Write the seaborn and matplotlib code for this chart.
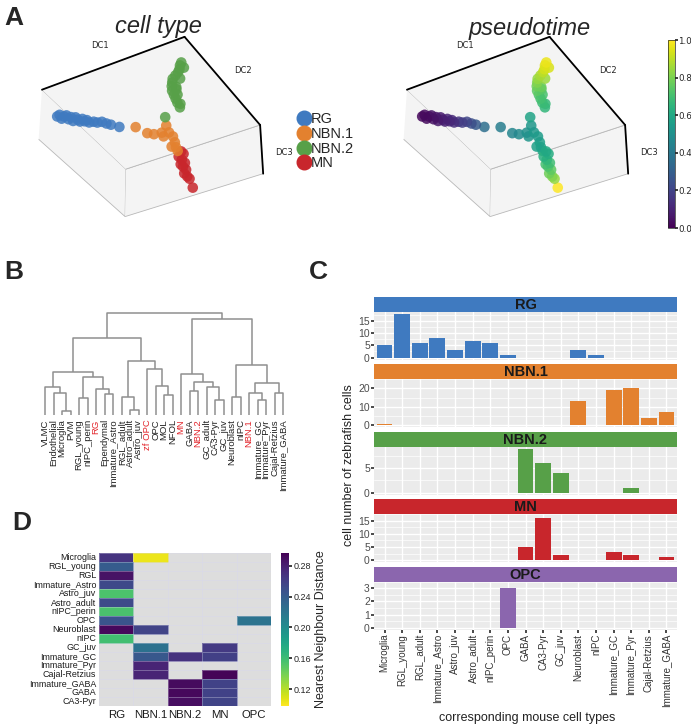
import numpy as np
import pandas as pd
import matplotlib
matplotlib.use("Agg")
import matplotlib.pyplot as plt
import seaborn as sns
from matplotlib.lines import Line2D
from matplotlib.cm import ScalarMappable
from matplotlib.colors import Normalize

sns.set_theme(style="white")
plt.rcParams['font.family'] = ['Liberation Sans', 'DejaVu Sans']

# ---------------- DATA ----------------
# Panel A: diffusion components (DC1, DC2, DC3) and pseudotime per cell
cell_types = ["RG", "NBN.1", "NBN.2", "MN"]
type_colors = ["#3f7ac0", "#e3812f", "#57a048", "#c8262c"]

rg_dc1 = [0.09, 0.10, 0.11, 0.12, 0.13, 0.14, 0.15, 0.16, 0.17, 0.18, 0.19,
          0.20, 0.21, 0.22, 0.23, 0.25, 0.27, 0.29, 0.31, 0.33, 0.36]
rg_dc2 = [0.05, 0.06, 0.07, 0.08, 0.09, 0.10, 0.11, 0.12, 0.13, 0.14, 0.15,
          0.16, 0.17, 0.18, 0.19, 0.21, 0.22, 0.24, 0.26, 0.28, 0.33]
rg_dc3 = [0.45, 0.49, 0.42, 0.47, 0.50, 0.43, 0.48, 0.41, 0.49, 0.45, 0.42,
          0.48, 0.44, 0.47, 0.43, 0.46, 0.44, 0.47, 0.45, 0.44, 0.45]
rg_pt = [0.02, 0.03, 0.03, 0.04, 0.05, 0.05, 0.06, 0.07, 0.08, 0.08, 0.09,
         0.10, 0.11, 0.12, 0.13, 0.15, 0.18, 0.21, 0.24, 0.28, 0.36]

nbn1_dc1 = [0.44, 0.47, 0.50, 0.55, 0.61, 0.59, 0.59, 0.57, 0.55, 0.53, 0.54, 0.54]
nbn1_dc2 = [0.39, 0.48, 0.51, 0.52, 0.47, 0.54, 0.59, 0.65, 0.70, 0.68, 0.56, 0.74]
nbn1_dc3 = [0.47, 0.47, 0.47, 0.47, 0.47, 0.47, 0.47, 0.47, 0.47, 0.47, 0.47, 0.47]
nbn1_pt = [0.42, 0.46, 0.48, 0.50, 0.53, 0.54, 0.55, 0.57, 0.58, 0.57, 0.52, 0.60]

nbn2_dc1 = [0.62, 0.68, 0.69, 0.70, 0.71, 0.72, 0.74, 0.76, 0.78, 0.81, 0.84,
            0.86, 0.88, 0.90, 0.73, 0.76, 0.82, 0.89, 0.75, 0.70]
nbn2_dc2 = [0.44, 0.52, 0.47, 0.43, 0.39, 0.35, 0.31, 0.28, 0.25, 0.23, 0.21,
            0.19, 0.16, 0.14, 0.40, 0.33, 0.27, 0.19, 0.35, 0.49]
nbn2_dc3 = [0.58, 0.86, 0.86, 0.86, 0.86, 0.86, 0.86, 0.86, 0.86, 0.86, 0.86,
            0.86, 0.86, 0.86, 0.86, 0.86, 0.86, 0.86, 0.86, 0.86]
nbn2_pt = [0.58, 0.66, 0.68, 0.70, 0.72, 0.75, 0.78, 0.81, 0.84, 0.87, 0.90,
           0.93, 0.95, 0.97, 0.71, 0.77, 0.85, 0.94, 0.74, 0.67]

mn_dc1 = [0.63, 0.63, 0.59, 0.59, 0.59, 0.56, 0.56, 0.53, 0.53, 0.53, 0.56, 0.52]
mn_dc2 = [0.62, 0.65, 0.66, 0.70, 0.74, 0.77, 0.81, 0.84, 0.88, 0.91, 0.74, 0.97]
mn_dc3 = [0.18, 0.18, 0.18, 0.18, 0.18, 0.18, 0.18, 0.18, 0.18, 0.18, 0.18, 0.10]
mn_pt = [0.60, 0.62, 0.63, 0.66, 0.69, 0.72, 0.75, 0.78, 0.81, 0.84, 0.70, 1.00]

# Panel B: dendrogram leaves and merges (name, child a, child b, height)
leaf_labels = ["VLMC", "Endothelial", "Microglia", "PVM", "RGL_young", "nIPC_perin",
               "RG", "Ependymal", "Immature_Astro", "RGL_adult", "Astro_adult",
               "Astro_juv", "zf OPC", "OPC", "MOL", "NFOL", "MN", "GABA", "NBN.2",
               "GC_adult", "CA3-Pyr", "GC_juv", "Neuroblast", "nIPC", "NBN.1",
               "Immature_GC", "Immature_Pyr", "Cajal-Retzius", "Immature_GABA"]
zebrafish_labels = ["RG", "zf OPC", "MN", "NBN.2", "NBN.1"]
merges = [
    ("L1", "Microglia", "PVM", 4),
    ("L2", "Endothelial", "L1", 22),
    ("L3", "VLMC", "L2", 28),
    ("L4", "RGL_young", "nIPC_perin", 17),
    ("L5", "Ependymal", "Immature_Astro", 21),
    ("L6", "RG", "L5", 26),
    ("L7", "L4", "L6", 38),
    ("L8", "L3", "L7", 43),
    ("L9", "Astro_adult", "Astro_juv", 5),
    ("L10", "RGL_adult", "L9", 18),
    ("L11", "MOL", "NFOL", 20),
    ("L12", "OPC", "L11", 29),
    ("L13", "zf OPC", "L12", 46),
    ("L14", "L10", "L13", 54),
    ("L15", "L8", "L14", 77),
    ("R1", "GABA", "NBN.2", 24),
    ("R2", "CA3-Pyr", "GC_juv", 15),
    ("R3", "GC_adult", "R2", 28),
    ("R4", "R1", "R3", 33),
    ("R5", "MN", "R4", 41),
    ("R6", "Neuroblast", "nIPC", 18),
    ("R7", "Immature_GC", "Immature_Pyr", 15),
    ("R8", "NBN.1", "R7", 22),
    ("R9", "Cajal-Retzius", "Immature_GABA", 22),
    ("R10", "R8", "R9", 32),
    ("R11", "R6", "R10", 50),
    ("R12", "R5", "R11", 96),
    ("TOP", "L15", "R12", 102),
]

# Panel C: counts of zebrafish cells per corresponding mouse cell type
mouse_types = ["Microglia", "RGL_young", "RGL_adult", "Immature_Astro", "Astro_juv",
               "Astro_adult", "nIPC_perin", "OPC", "GABA", "CA3-Pyr", "GC_juv",
               "Neuroblast", "nIPC", "Immature_GC", "Immature_Pyr", "Cajal-Retzius",
               "Immature_GABA"]
facet_names = ["RG", "NBN.1", "NBN.2", "MN", "OPC"]
facet_colors = ["#3f7ac0", "#e3812f", "#57a048", "#c8262c", "#8b66ae"]
counts_RG = [5, 18, 6, 8, 3, 7, 6, 1, 0, 0, 0, 3, 1, 0, 0, 0, 0]
counts_NBN1 = [1, 0, 0, 0, 0, 0, 0, 0, 0, 0, 0, 13, 0, 19, 20, 4, 7]
counts_NBN2 = [0, 0, 0, 0, 0, 0, 0, 0, 9, 6, 4, 0, 0, 0, 1, 0, 0]
counts_MN = [0, 0, 0, 0, 0, 0, 0, 0, 5, 16, 2, 0, 0, 3, 2, 0, 1]
counts_OPC = [0, 0, 0, 0, 0, 0, 0, 3, 0, 0, 0, 0, 0, 0, 0, 0, 0]
facet_yticks = [[0, 5, 10, 15], [0, 10, 20], [0, 5], [0, 5, 10, 15], [0, 1, 2, 3]]

# Panel D: nearest neighbour distance
nan = np.nan
nn_rows = ["Microglia", "RGL_young", "RGL", "Immature_Astro", "Astro_juv", "Astro_adult",
           "nIPC_perin", "OPC", "Neuroblast", "nIPC", "GC_juv", "Immature_GC",
           "Immature_Pyr", "Cajal-Retzius", "Immature_GABA", "GABA", "CA3-Pyr"]
nn_cols = ["RG", "NBN.1", "NBN.2", "MN", "OPC"]
nn_RG = [0.267, 0.240, 0.287, 0.253, 0.154, 0.252, 0.155, 0.245, 0.293, 0.158,
         nan, nan, nan, nan, nan, nan, nan]
nn_NBN1 = [0.104, nan, nan, nan, nan, nan, nan, nan, 0.257, nan,
           0.223, 0.243, 0.277, 0.277, nan, nan, nan]
nn_NBN2 = [nan, nan, nan, nan, nan, nan, nan, nan, nan, nan,
           nan, 0.269, nan, nan, 0.291, 0.293, 0.290]
nn_MN = [nan, nan, nan, nan, nan, nan, nan, nan, nan, nan,
         0.263, 0.259, nan, 0.295, 0.258, 0.258, 0.257]
nn_OPC = [nan, nan, nan, nan, nan, nan, nan, 0.221, nan, nan,
          nan, nan, nan, nan, nan, nan, nan]

# ---------------- FIGURE ----------------
W, H = 691, 728
fig = plt.figure(figsize=(W / 100, H / 100), dpi=100)


def rect(x0, y0, x1, y1):
    return [x0 / W, 1 - y1 / H, (x1 - x0) / W, (y1 - y0) / H]


def fpos(x, y):
    return x / W, 1 - y / H


# ---------- Panel A ----------
branches = [
    (rg_dc1, rg_dc2, rg_dc3, rg_pt),
    (nbn1_dc1, nbn1_dc2, nbn1_dc3, nbn1_pt),
    (nbn2_dc1, nbn2_dc2, nbn2_dc3, nbn2_pt),
    (mn_dc1, mn_dc2, mn_dc3, mn_pt),
]


def style3d(ax):
    ax.view_init(elev=-36, azim=-60)
    ax.set_xlim(0, 1); ax.set_ylim(0, 1); ax.set_zlim(0, 1)
    ax.set_box_aspect((4, 4, 1.5), zoom=1.0)
    ax.set_xticks([]); ax.set_yticks([]); ax.set_zticks([])
    for axis in (ax.xaxis, ax.yaxis, ax.zaxis):
        axis.set_pane_color((0.955, 0.955, 0.955, 1.0))
        axis.pane.set_edgecolor((0.72, 0.72, 0.72, 1.0))
        axis.pane.set_linewidth(0.6)
        axis.line.set_color("black")
        axis.line.set_linewidth(1.3)
    ax.set_xlabel("DC1", fontsize=6, family="DejaVu Sans", labelpad=-10)
    ax.set_ylabel("DC2", fontsize=6, family="DejaVu Sans", labelpad=-10)
    ax.set_zlabel("DC3", fontsize=6, family="DejaVu Sans", labelpad=-12)
    ax.grid(False)
    ax.patch.set_alpha(0)


axA1 = fig.add_axes(rect(0, 20, 300, 250), projection="3d")
style3d(axA1)
for (d1, d2, d3, pt), col in zip(branches, type_colors):
    axA1.scatter(d1, d2, d3, color=col, s=58, alpha=0.85, depthshade=False,
                 edgecolors="none")

axA2 = fig.add_axes(rect(365, 20, 665, 250), projection="3d")
style3d(axA2)
all_d1 = sum([b[0] for b in branches], [])
all_d2 = sum([b[1] for b in branches], [])
all_d3 = sum([b[2] for b in branches], [])
all_pt = sum([b[3] for b in branches], [])
axA2.scatter(all_d1, all_d2, all_d3, c=all_pt, cmap="viridis", vmin=0, vmax=1,
             s=58, alpha=0.85, depthshade=False, edgecolors="none")

caxA = fig.add_axes(rect(668, 40, 675, 228))
cbA = fig.colorbar(ScalarMappable(norm=Normalize(0, 1), cmap="viridis"), cax=caxA)
cbA.set_ticks([0, 0.2, 0.4, 0.6, 0.8, 1.0])
cbA.set_ticklabels(["0.0", "0.2", "0.4", "0.6", "0.8", "1.0"])
caxA.tick_params(labelsize=6.3, length=2, pad=0.5)
for t in caxA.get_yticklabels():
    t.set_family("DejaVu Sans")
cbA.outline.set_linewidth(0.5)

fig.text(*fpos(158, 26), "cell type", fontsize=17, style="italic", ha="center", va="center")
fig.text(*fpos(530, 28), "pseudotime", fontsize=17, style="italic", ha="center", va="center")

handles = [Line2D([], [], marker="o", ls="none", color=c, markersize=10.5) for c in type_colors]
fig.legend(handles, cell_types, loc="upper left", bbox_to_anchor=fpos(289, 105),
           frameon=False, fontsize=10.5, handletextpad=0.0, labelspacing=0.05,
           borderpad=0, handlelength=1.0)

# ---------- Panel B ----------
axB = fig.add_axes(rect(41, 313, 287.3, 415))
pos = {name: i for i, name in enumerate(leaf_labels)}
hgt = {name: 0.0 for name in leaf_labels}
for name, a, b, h in merges:
    xa, xb = pos[a], pos[b]
    axB.plot([xa, xa, xb, xb], [hgt[a], h, h, hgt[b]], color="#8f8f8f", lw=1.1,
             solid_capstyle="butt", clip_on=False)
    pos[name] = (xa + xb) / 2
    hgt[name] = h
axB.set_xlim(-0.5, len(leaf_labels) - 0.5)
axB.set_ylim(0, 102)
axB.set_xticks(range(len(leaf_labels)))
axB.set_xticklabels(leaf_labels, rotation=90, fontsize=6.8)
axB.set_yticks([])
for t in axB.get_xticklabels():
    t.set_color("#e3262c" if t.get_text() in zebrafish_labels else "#222222")
axB.tick_params(axis="x", length=0, pad=3)
for s in axB.spines.values():
    s.set_visible(False)
axB.patch.set_alpha(0)

# ---------- Panel C ----------
facet_counts = [counts_RG, counts_NBN1, counts_NBN2, counts_MN, counts_OPC]
strip_h, panel_h, period = 15.0, 48.0, 67.5
top0 = 296.7
for i, (name, vals, col) in enumerate(zip(facet_names, facet_counts, facet_colors)):
    st = top0 + i * period
    axs = fig.add_axes(rect(374, st, 677, st + strip_h))
    axs.set_facecolor(col)
    axs.set_xticks([]); axs.set_yticks([])
    for s in axs.spines.values():
        s.set_visible(False)
    axs.text(0.5, 0.45, name, ha="center", va="center", fontsize=10.5,
             fontweight="bold", color="#1a1a1a", transform=axs.transAxes)

    ax = fig.add_axes(rect(374, st + strip_h, 677, st + strip_h + panel_h))
    df = pd.DataFrame({"type": mouse_types, "n": vals})
    sns.barplot(data=df, x="type", y="n", order=mouse_types, color=col, width=0.9,
                saturation=1, linewidth=0, ax=ax, errorbar=None)
    ax.set_facecolor("#ebebeb")
    ax.set_xlim(-0.6, len(mouse_types) - 0.4)
    m = max(vals)
    ax.set_ylim(-0.05 * m, 1.05 * m)
    yt = facet_yticks[i]
    ax.set_yticks(yt)
    step = yt[1] - yt[0]
    ax.set_yticks([v + step / 2 for v in yt], minor=True)
    ax.grid(which="major", color="white", lw=1.0)
    ax.grid(which="minor", axis="y", color="white", lw=0.5)
    ax.set_axisbelow(True)
    for s in ax.spines.values():
        s.set_visible(False)
    ax.tick_params(axis="y", which="major", length=2, color="#333333", labelsize=7.5,
                   labelcolor="#4d4d4d", pad=1, left=True)
    ax.tick_params(axis="y", which="minor", length=0)
    ax.set_xlabel(""); ax.set_ylabel("")
    if i == len(facet_names) - 1:
        ax.set_xticks(range(len(mouse_types)))
        ax.set_xticklabels(mouse_types, rotation=90, fontsize=7, color="#333333")
        ax.tick_params(axis="x", length=2, color="#333333", pad=1, bottom=True)
    else:
        ax.set_xticklabels([])
        ax.tick_params(axis="x", length=0)

fig.text(*fpos(349, 465), "cell number of zebrafish cells", rotation=90, fontsize=9,
         ha="center", va="center", color="#222222")
fig.text(*fpos(527.5, 718), "corresponding mouse cell types", fontsize=9,
         ha="center", va="center", color="#222222")

# ---------- Panel D ----------
nn = pd.DataFrame({"RG": nn_RG, "NBN.1": nn_NBN1, "NBN.2": nn_NBN2,
                   "MN": nn_MN, "OPC": nn_OPC}, index=nn_rows)[nn_cols]
axD = fig.add_axes(rect(99, 552.7, 271, 706))
caxD = fig.add_axes(rect(281, 552.7, 289, 706))
sns.heatmap(nn, ax=axD, cbar_ax=caxD, cmap="viridis_r", vmin=0.098, vmax=0.297,
            linewidths=0.5, linecolor=(0.85, 0.85, 0.92, 0.35),
            xticklabels=True, yticklabels=True)
axD.set_facecolor("#dddddd")
axD.tick_params(axis="y", length=0, labelsize=6.4, pad=2, rotation=0)
axD.tick_params(axis="x", length=0, labelsize=8.2, pad=3, rotation=0)
for t in axD.get_yticklabels() + axD.get_xticklabels():
    t.set_color("#1a1a1a")
caxD.set_yticks([0.12, 0.16, 0.20, 0.24, 0.28])
caxD.set_yticklabels(["0.12", "0.16", "0.20", "0.24", "0.28"])
caxD.tick_params(labelsize=6.5, length=2, pad=1)
caxD.set_ylabel("Nearest Neighbour Distance", fontsize=9, labelpad=3)

# ---------- Panel labels ----------
for lab, (x, y) in {"A": (14, 18), "B": (14, 272), "C": (318, 272), "D": (22, 523)}.items():
    fig.text(*fpos(x, y), lab, fontsize=19, fontweight="bold", ha="center", va="center")

fig.savefig("out.png", dpi=100)
